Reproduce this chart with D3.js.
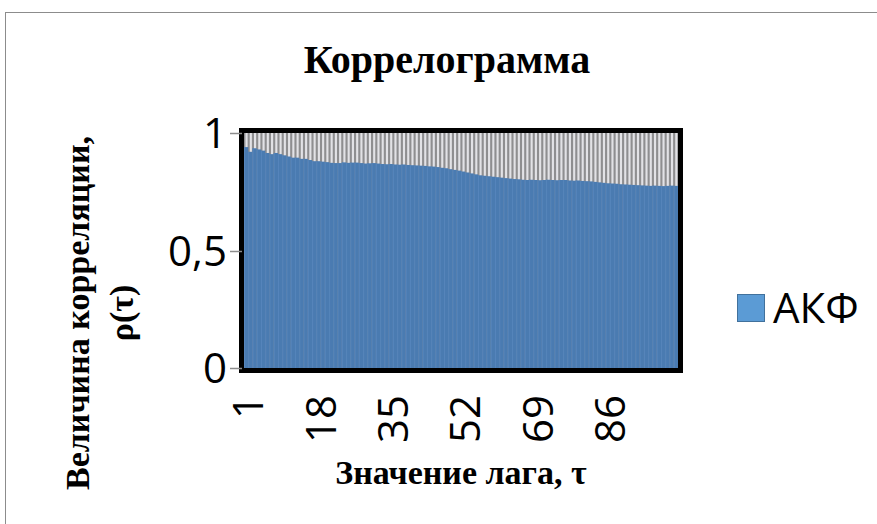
<!DOCTYPE html>
<html>
<head>
<meta charset="utf-8">
<script src="https://cdn.jsdelivr.net/npm/d3@7.9.0/dist/d3.min.js"></script>
<style>
  body { margin: 0; background: #fff; }
  svg { display: block; }
</style>
</head>
<body>
<svg id="chart" width="877" height="524"></svg>
<script>
// ACF values, lags 1..102
const acf = [
  0.94, 0.92, 0.935, 0.93, 0.925, 0.915, 0.91, 0.915, 0.91, 0.905,
  0.90, 0.895, 0.895, 0.89, 0.89, 0.885, 0.88, 0.88, 0.878, 0.876,
  0.873, 0.872, 0.872, 0.875, 0.873, 0.874, 0.874, 0.872, 0.87, 0.871,
  0.872, 0.870, 0.868, 0.867, 0.868, 0.866, 0.865, 0.866, 0.864, 0.863,
  0.862, 0.861, 0.860, 0.858, 0.857, 0.855, 0.852, 0.850, 0.846, 0.843,
  0.840, 0.836, 0.832, 0.828, 0.824, 0.820, 0.818, 0.816, 0.814, 0.812,
  0.810, 0.808, 0.806, 0.804, 0.803, 0.801, 0.800, 0.801, 0.800, 0.799,
  0.800, 0.801, 0.800, 0.799, 0.800, 0.800, 0.798, 0.797, 0.798, 0.796,
  0.795, 0.794, 0.792, 0.790, 0.788, 0.786, 0.785, 0.784, 0.782, 0.781,
  0.780, 0.779, 0.778, 0.777, 0.776, 0.775, 0.776, 0.775, 0.774, 0.775,
  0.776, 0.775
];
const lags = acf.map((d, i) => i + 1);
const xTickLabels = [1, 18, 35, 52, 69, 86];
const yTicks = [0, 0.5, 1];
const yTickLabels = ['0', '0,5', '1'];
const seriesName = 'АКФ';
const title = 'Коррелограмма';
const yTitle = ['Величина корреляции,', 'ρ(τ)'];
const xTitle = 'Значение лага, τ';

const svg = d3.select('#chart');

// outer chart border
svg.append('rect')
  .attr('x', 5.5).attr('y', 12.5)
  .attr('width', 900).attr('height', 540)
  .attr('fill', 'none').attr('stroke', '#8c8c8c').attr('stroke-width', 1);

const plot = { left: 244, right: 678, top: 133, bottom: 368 };

const x = d3.scaleBand().domain(lags).range([plot.left, plot.right]).padding(0);
const y = d3.scaleLinear().domain([0, 1]).range([plot.bottom, plot.top]);

// plot background
svg.append('rect')
  .attr('x', plot.left).attr('y', plot.top)
  .attr('width', plot.right - plot.left).attr('height', plot.bottom - plot.top)
  .attr('fill', '#8e8e90');

// light stripes above each bar
svg.append('g').selectAll('rect')
  .data(acf)
  .join('rect')
  .attr('x', (d, i) => x(lags[i]) + x.bandwidth() * 0.35)
  .attr('y', y(1))
  .attr('width', x.bandwidth() * 0.5)
  .attr('height', d => y(0) - y(1))
  .attr('fill', '#e2e2e6');

// bars
svg.append('g').selectAll('rect')
  .data(acf)
  .join('rect')
  .attr('x', (d, i) => x(lags[i]))
  .attr('y', d => y(d))
  .attr('width', x.bandwidth())
  .attr('height', d => y(0) - y(d))
  .attr('fill', '#4a7bb1');

// faint vertical lines inside the bars
svg.append('g').selectAll('line')
  .data(acf)
  .join('line')
  .attr('x1', (d, i) => x(lags[i]) + 0.5)
  .attr('x2', (d, i) => x(lags[i]) + 0.5)
  .attr('y1', d => y(d))
  .attr('y2', y(0))
  .attr('stroke', '#5685bb').attr('stroke-width', 1);

// black frame around the plot
svg.append('rect')
  .attr('x', plot.left - 2.5).attr('y', plot.top - 2.5)
  .attr('width', plot.right - plot.left + 5).attr('height', plot.bottom - plot.top + 5)
  .attr('fill', 'none').attr('stroke', '#000').attr('stroke-width', 5);

// y ticks
const yAxis = svg.append('g');
yAxis.selectAll('line')
  .data(yTicks)
  .join('line')
  .attr('x1', 230).attr('x2', 242)
  .attr('y1', d => Math.round(y(d)) + 0.5).attr('y2', d => Math.round(y(d)) + 0.5)
  .attr('stroke', '#8c8c8c').attr('stroke-width', 1.5);
yAxis.selectAll('text')
  .data(yTicks)
  .join('text')
  .attr('x', 227)
  .attr('y', d => y(d))
  .attr('dy', '0.36em')
  .attr('text-anchor', 'end')
  .attr('font-family', 'Open Sans, Liberation Sans, sans-serif')
  .attr('font-size', 42)
  .attr('fill', '#000')
  .text((d, i) => yTickLabels[i]);

// x tick labels (rotated)
svg.append('g').selectAll('text')
  .data(xTickLabels)
  .join('text')
  .attr('transform', d => `translate(${x(d) + x.bandwidth() / 2 + 2},395) rotate(-90)`)
  .attr('dy', '0.36em')
  .attr('text-anchor', 'end')
  .attr('font-family', 'Open Sans, Liberation Sans, sans-serif')
  .attr('font-size', 42)
  .attr('fill', '#000')
  .text(d => d);

// title
svg.append('text')
  .attr('x', 447).attr('y', 73)
  .attr('text-anchor', 'middle')
  .attr('font-family', 'Liberation Serif, Times New Roman, serif')
  .attr('font-weight', 'bold')
  .attr('font-size', 40)
  .text(title);

// axis titles
svg.append('text')
  .attr('x', 461).attr('y', 484)
  .attr('text-anchor', 'middle')
  .attr('font-family', 'Liberation Serif, Times New Roman, serif')
  .attr('font-weight', 'bold')
  .attr('font-size', 34)
  .text(xTitle);

const yt = svg.append('text')
  .attr('transform', 'translate(0,313) rotate(-90)')
  .attr('text-anchor', 'middle')
  .attr('font-family', 'Liberation Serif, Times New Roman, serif')
  .attr('font-weight', 'bold')
  .attr('font-size', 34);
yt.append('tspan').attr('x', 0).attr('y', 89).text(yTitle[0]);
yt.append('tspan').attr('x', 0).attr('y', 133).text(yTitle[1]);

// legend
svg.append('rect')
  .attr('x', 737.5).attr('y', 294.5)
  .attr('width', 27).attr('height', 27)
  .attr('fill', '#5b9bd5').attr('stroke', '#41719c').attr('stroke-width', 1);
svg.append('text')
  .attr('x', 773).attr('y', 323)
  .attr('font-family', 'Open Sans, Liberation Sans, sans-serif')
  .attr('font-size', 42)
  .text(seriesName);
</script>
</body>
</html>
